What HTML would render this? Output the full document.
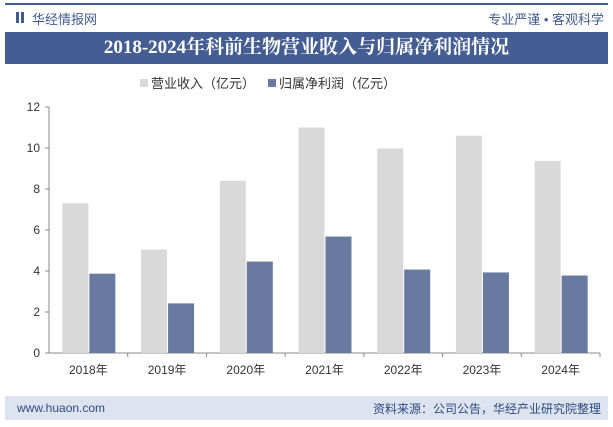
<!DOCTYPE html>
<html><head><meta charset="utf-8"><style>
body{margin:0;width:613px;height:427px;background:#fff;font-family:"Liberation Sans","Noto Sans CJK SC",sans-serif;overflow:hidden;position:relative}
.a{position:absolute}
</style></head><body>
<div class="a" style="left:5px;top:3px;width:603px;height:2px;background:#3f5b8f"></div>
<div class="a" style="left:16px;top:12px;width:3px;height:11px;background:#3f5b8f;box-shadow:5px 0 0 #3f5b8f"></div>
<div class="a" style="left:32px;top:9px;font-size:13px;color:#3f5b8f">华经情报网</div>
<div class="a" style="right:9px;top:9px;font-size:13px;color:#3f5b8f">专业严谨 • 客观科学</div>
<div class="a" style="left:5px;top:32px;width:603px;height:32px;background:#445d93;color:#fff;font:bold 19px 'Liberation Serif','Noto Serif CJK SC',serif;text-align:center;line-height:32px">2018-2024年科前生物营业收入与归属净利润情况</div>
<div class="a" style="left:5px;top:396px;width:603px;height:24px;background:#dde3ef"></div>
<div class="a" style="left:17px;top:401px;font-size:12px;color:#2d4a80">www.huaon.com</div>
<div class="a" style="right:12px;top:400px;font-size:12px;color:#2d4a80">资料来源：公司公告，华经产业研究院整理</div>
<svg class="a" style="left:0;top:0" width="613" height="427" id="c"></svg>
<script>
const categories=["2018年","2019年","2020年","2021年","2022年","2023年","2024年"];
const revenue=[7.3,5.05,8.4,11.0,9.98,10.6,9.37];
const profit=[3.87,2.42,4.46,5.68,4.07,3.93,3.78];
const ticks=[0,2,4,6,8,10,12];
const svg=document.getElementById('c'),NS="http://www.w3.org/2000/svg";
const x0=49,x1=600,yb=353,yt=107;
const y=v=>yb-(v/12)*(yb-yt);
const cw=(x1-x0)/categories.length;
function mk(t,a,txt){const e=document.createElementNS(NS,t);for(const k in a)e.setAttribute(k,a[k]);if(txt!=null)e.textContent=txt;svg.appendChild(e);return e;}
let e;
e=mk('line',{x1:x0,x2:x0,y1:yt,y2:yb,stroke:'#888'});


e=mk('line',{x1:x0,x2:x1,y1:yb,y2:yb,stroke:'#888'});


ticks.forEach(t=>{
 e=mk('text',{x:x0-9,y:y(t)+4,'text-anchor':'end','font-size':12,fill:'#333'},t);
 
 
 mk('line',{x1:x0-4,x2:x0,y1:y(t),y2:y(t),stroke:'#888'});
});
categories.forEach((c,i)=>{
 const cx=x0+cw*(i+0.5);
 mk('line',{x1:x0+cw*(i+1),x2:x0+cw*(i+1),y1:yb,y2:yb+4,stroke:'#888'});
 e=mk('rect',{x:cx-26,y:y(revenue[i]),width:26,height:yb-y(revenue[i]),fill:'#d9d9d9'});
 
 
 e=mk('rect',{x:cx+1,y:y(profit[i]),width:26,height:yb-y(profit[i]),fill:'#687aa0'});
 
 
 e=mk('text',{x:cx,y:yb+21,'text-anchor':'middle','font-size':12,fill:'#333'},c);
 
 
});
e=mk('rect',{x:140,y:79,width:8,height:8,fill:'#d9d9d9'});


e=mk('text',{x:151,y:88,'font-size':13,fill:'#333'},'营业收入（亿元）');


e=mk('rect',{x:268,y:79,width:8,height:8,fill:'#687aa0'});


e=mk('text',{x:279,y:88,'font-size':13,fill:'#333'},'归属净利润（亿元）');


</script>
</body></html>
